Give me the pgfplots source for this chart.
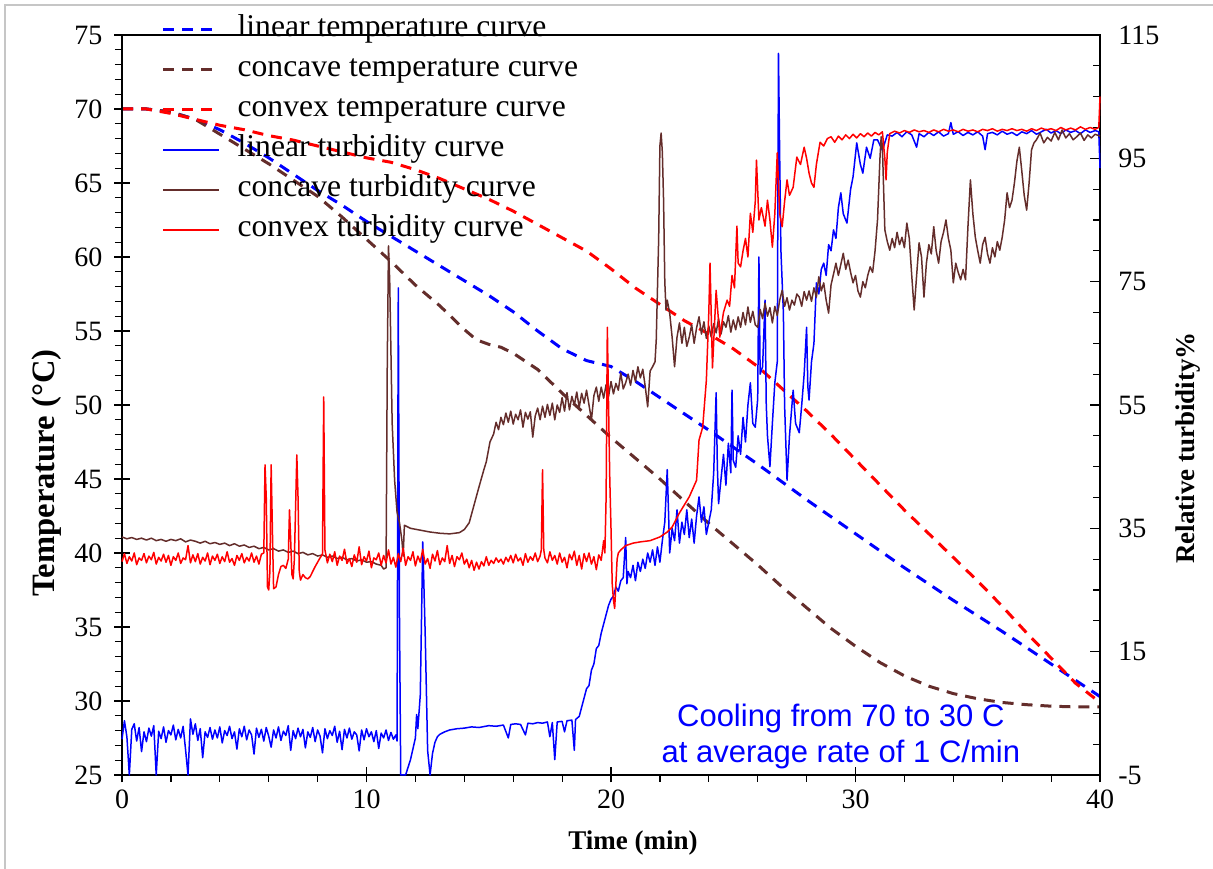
\documentclass[border=0pt]{standalone}
\usepackage{fontspec}
\setmainfont{Liberation Serif}
\newfontfamily\arialf{Liberation Sans}
\usepackage{pgfplots}
\pgfplotsset{compat=1.18}
\definecolor{cblue}{RGB}{0,0,255}
\definecolor{cbrown}{RGB}{100,45,43}
\definecolor{cred}{RGB}{255,0,0}
\tikzset{tdash/.style={line width=1.5pt, dash pattern=on 5.5pt off 4pt},
         tsol/.style={solid, line width=0.75pt, line join=round}}
\begin{document}
\begin{tikzpicture}
\begin{axis}[name=ax, scale only axis, width=489pt, height=370pt,
  xmin=0, xmax=40, ymin=25, ymax=75,
  xtick={0,10,20,30,40}, minor x tick num=4,
  ytick={25,30,...,75}, minor y tick num=4,
  tick pos=left, tick align=center,
  major tick length=7.5pt, minor tick length=3.5pt,
  minor x tick style={yshift=-1.75pt}, minor y tick style={xshift=-1.75pt},
  every tick/.style={black, line width=0.6pt},
  axis line style={line width=0.7pt},
  /pgf/number format/assume math mode=true,
  ticklabel style={font=\fontsize{14}{14}\selectfont},
  yticklabel style={xshift=-2.5pt},
  xlabel={\textbf{Time (min)}}, ylabel={\textbf{Temperature (°C)}},
  xlabel style={font=\fontsize{13.5}{14}\selectfont, at={(axis description cs:0.5225,-0.092)}, anchor=center},
  ylabel style={font=\fontsize{16.3}{17}\selectfont, at={(axis description cs:-0.077,0.408)}, anchor=center},
  no markers, clip=true]
% linear temperature
\addplot[cblue, tdash] coordinates {(0,70)(1,70)(2,69.8)(3,69.3)(4,68.6)(5,67.7)(6,66.7)(7,65.6)(8,64.5)(9,63.5)(10,62.4)(11,61.4)(12,60.4)(13,59.4)(14,58.4)(15,57.4)(16,56.3)(17,55.0)(18,53.8)(19,53.0)(20,52.6)(21,51.6)(22,50.5)(24,48.3)(26,46.0)(28,43.6)(30,41.3)(32,39.0)(34,36.8)(36,34.7)(38,32.5)(40,30.3)};
% concave temperature
\addplot[cbrown, tdash] coordinates {(0,70)(1,70)(2,69.8)(3,69.3)(4,68.3)(5,67.3)(6,66.3)(7,65.2)(8,64.1)(9,62.7)(10,61.2)(11,59.7)(12,58.1)(13,56.7)(14,55.1)(14.5,54.4)(15,54.1)(15.5,53.9)(16,53.5)(17,52.4)(18,50.8)(19,49.3)(20,47.8)(21,46.4)(22,45.0)(23,43.5)(24,42.0)(25,40.6)(26,39.2)(27,37.7)(28,36.3)(29,34.9)(30,33.7)(31,32.6)(32,31.7)(33,31.0)(34,30.5)(35,30.15)(36,29.9)(37,29.75)(38,29.65)(39,29.6)(40,29.6)};
% convex temperature
\addplot[cred, tdash] coordinates {(0,70)(1,70)(2,69.7)(3,69.3)(4,68.9)(5,68.6)(6,68.2)(7,67.9)(8,67.5)(9,67.1)(10,66.7)(11,66.4)(12,65.9)(13,65.3)(14,64.6)(15,63.9)(16,63.1)(17,62.2)(18,61.3)(19,60.4)(20,59.2)(21,57.9)(22,56.8)(23,55.7)(24,54.8)(25,53.8)(26,52.6)(27,51.1)(28,49.6)(29,48.0)(30,46.3)(31,44.6)(32,42.9)(33,41.3)(34,39.7)(35,38.1)(36,36.4)(37,34.6)(38,32.9)(39,31.2)(40,29.9)};
\node[font=\arialf\fontsize{15.5}{18}\selectfont, text=cblue, align=center] at (axis cs:29.4,27.6) {Cooling from 70 to 30 C\\at average rate of 1 C/min};
\end{axis}
\begin{axis}[scale only axis, width=489pt, height=370pt,
  xmin=0, xmax=40, ymin=-5, ymax=115,
  hide x axis, ytick pos=right,
  ytick={-5,15,...,115}, minor y tick num=3, yticklabels={},
  tick align=inside, major tick length=5pt, minor tick length=3.5pt,
  every tick/.style={black, line width=0.6pt},
  axis line style={line width=0.7pt},
  ylabel={\textbf{Relative turbidity\%}},
  label style={font=\fontsize{13.5}{14}\selectfont},
  ylabel style={at={(axis description cs:1.09,0.442)}, anchor=center},
  no markers, clip=false,
  legend style={at={(axis description cs:0.034,1.036)}, anchor=north west, draw=none, fill=none,
    font=\fontsize{15.8}{16}\selectfont, row sep=3pt, column sep=7.5pt,
    nodes={inner sep=1pt, text height=11pt, text depth=4pt}},
  legend cell align=left,
  legend image code/.code={\draw[#1] (0pt,0pt) -- (28pt,0pt);}]
\addlegendimage{draw=cblue, tdash}
\addlegendentry{linear temperature curve}
\addlegendimage{draw=cbrown, tdash}
\addlegendentry{concave temperature curve}
\addlegendimage{draw=cred, tdash}
\addlegendentry{convex temperature curve}
\addlegendimage{draw=cblue, solid, line width=0.9pt}
\addlegendentry{linear turbidity curve}
\addlegendimage{draw=cbrown, solid, line width=0.9pt}
\addlegendentry{concave turbidity curve}
\addlegendimage{draw=cred, solid, line width=0.9pt}
\addlegendentry{convex turbidity curve}
\pgfplotsinvokeforeach{-5,15,35,55,75,95,115}{\node[anchor=west, inner sep=0pt, font=\fontsize{14}{14}\selectfont] at ([xshift=9pt]axis cs:40,#1) {#1};}
% linear turbidity
\addplot[cblue, tsol, forget plot] coordinates {
(0,0.8)(0.1,3.8)(0.2,1.2)(0.3,-5)(0.4,2.4)(0.5,3.3)(0.6,0.5)(0.7,2.7)(0.8,-1.2)(0.9,2.0)
(1.0,0.4)(1.1,2.6)(1.2,1.3)(1.3,3.0)(1.4,-5)(1.5,2.1)(1.6,0.9)(1.7,2.8)(1.8,0.3)(1.9,2.2)
(2.0,1.5)(2.1,3.1)(2.2,0.7)(2.3,2.4)(2.4,1.0)(2.5,2.9)(2.6,-0.9)(2.7,-5)(2.8,4.1)(2.9,1.6)
(3.0,3.3)(3.1,0.6)(3.2,2.5)(3.3,-2.2)(3.4,2.0)(3.5,1.1)(3.6,2.7)(3.7,0.8)(3.8,2.3)(3.9,1.0)
(4.0,2.8)(4.1,0.2)(4.2,2.2)(4.3,1.4)(4.4,2.9)(4.5,0.9)(4.6,2.0)(4.7,-0.8)(4.8,2.5)(4.9,1.2)
(5.0,2.9)(5.1,0.7)(5.2,2.3)(5.3,1.5)(5.4,-1.6)(5.5,2.6)(5.6,1.1)(5.7,2.4)(5.8,0.5)(5.9,2.7)
(6.0,1.3)(6.1,-0.5)(6.2,2.3)(6.3,1.0)(6.4,2.8)(6.5,0.6)(6.6,2.1)(6.7,1.4)(6.8,3.0)(6.9,-1.0)
(7.0,2.2)(7.1,0.9)(7.2,2.6)(7.3,1.2)(7.4,2.4)(7.5,-0.6)(7.6,2.0)(7.7,1.1)(7.8,2.7)(7.9,0.4)
(8.0,2.3)(8.1,1.3)(8.2,-1.4)(8.3,2.5)(8.4,0.9)(8.5,2.2)(8.6,1.4)(8.7,2.9)(8.8,0.3)(8.9,2.1)
(9.0,-0.9)(9.1,2.4)(9.2,1.0)(9.3,2.6)(9.4,0.8)(9.5,2.0)(9.6,1.5)(9.7,-1.1)(9.8,2.3)(9.9,0.7)
(10.0,2.5)(10.1,1.2)(10.2,2.0)(10.3,0.4)(10.4,2.2)(10.5,-0.7)(10.6,1.8)(10.7,1.0)(10.8,2.3)(10.9,0.6)
(11.0,1.9)(11.1,0.8)(11.2,1.5)(11.25,0.5)(11.3,74)(11.35,20)(11.4,-5)(11.6,-5)(11.8,-2.5)(12.0,1.0)
(12.05,4.8)(12.1,2.5)(12.2,8)(12.3,32.8)(12.4,18)(12.5,-1)(12.6,-5)(12.7,-1.5)(12.8,0.3)(12.9,1.2)
(13.0,1.6)(13.2,2.0)(13.4,2.3)(13.7,2.5)(14.0,2.6)(14.3,2.8)(14.6,2.7)(15.0,3.0)(15.3,2.9)(15.6,3.1)
(15.8,1.0)(15.9,3.2)(16.1,3.3)(16.3,3.2)(16.5,1.5)(16.6,3.4)(16.8,3.3)(17.0,3.5)(17.2,3.4)(17.4,3.6)
(17.5,1.2)(17.6,3.5)(17.7,-2.5)(17.8,3.6)(18.0,3.7)(18.1,2.0)(18.2,3.8)(18.4,3.9)(18.5,-1.0)(18.55,4.0)
(18.7,4.5)(18.8,6.0)(18.9,7.5)(19.0,9.0)(19.1,9.5)(19.2,12.0)(19.3,13.0)(19.4,15.5)(19.5,16.0)(19.6,18.0)
(19.7,19.5)(19.8,21.0)(19.9,22.5)(20.0,23.5)(20.1,24.0)(20.2,25.5)(20.3,24.8)(20.4,26.5)(20.5,27.0)(20.6,33.5)
(20.65,26.0)(20.7,28.0)(20.8,27.0)(20.9,29.0)(21.0,26.5)(21.1,29.5)(21.2,28.0)(21.3,30.0)(21.4,28.5)(21.5,31.0)
(21.6,29.5)(21.7,31.5)(21.8,29.0)(21.9,32.0)(22.0,29.5)(22.1,33.0)(22.2,36.0)(22.3,44.5)(22.35,38)(22.4,31.0)
(22.5,35)(22.6,33)(22.7,38)(22.8,32.6)(22.9,36)(23.0,34)(23.1,38)(23.2,33.5)(23.3,36.5)(23.4,32.6)
(23.5,37)(23.6,40.1)(23.7,36)(23.8,38.5)(23.9,34)(24.0,36)(24.1,38)(24.2,44)(24.3,57)(24.35,45)
(24.4,39)(24.5,43)(24.6,47)(24.7,42)(24.8,48.8)(24.9,44)(24.95,57.4)(25.0,46)(25.1,44.9)(25.2,50)
(25.3,47)(25.4,53)(25.5,49)(25.6,55)(25.7,58.6)(25.8,52)(25.9,51.4)(26.0,56)(26.05,79)(26.1,60)
(26.2,61.2)(26.3,72)(26.35,55)(26.4,50)(26.5,45)(26.6,52)(26.7,58.6)(26.8,62)(26.85,112)(26.9,95)
(26.95,80)(27.05,70)(27.1,55)(27.2,42.8)(27.3,50)(27.45,57.4)(27.55,52)(27.7,50.5)(27.8,55)(27.9,60)
(28.0,67.6)(28.05,58)(28.1,55.8)(28.2,62)(28.3,65)(28.4,74.8)(28.5,73)(28.6,77)(28.7,78)(28.8,76)
(28.9,81)(29.0,80)(29.1,83.4)(29.2,82)(29.3,87)(29.4,89.4)(29.5,86)(29.65,84.5)(29.8,90)(29.9,92)
(30.05,97.5)(30.2,94)(30.3,92.6)(30.45,96.8)(30.6,95)(30.75,98)(30.9,98)(31.1,96.3)(31.3,98.8)(31.5,98.6)
(31.7,99.2)(31.9,98.5)(32.1,99.3)(32.3,98.8)(32.5,96.8)(32.6,99.0)(32.8,98.5)(33.0,99.2)(33.2,98.7)(33.4,99.3)
(33.6,98.6)(33.8,99.0)(33.9,100.8)(34.0,98.9)(34.2,99.3)(34.4,98.7)(34.6,99.2)(34.8,98.8)(35.0,99.3)(35.2,98.6)
(35.3,96.4)(35.4,99.0)(35.6,99.2)(35.8,98.8)(36.0,99.4)(36.2,98.9)(36.4,99.2)(36.6,98.7)(36.8,99.3)(37.0,99.0)
(37.2,99.5)(37.4,98.9)(37.6,99.3)(37.8,99.7)(38.0,99.1)(38.2,99.5)(38.4,99.0)(38.6,99.6)(38.8,99.2)(39.0,99.5)
(39.2,99.0)(39.4,99.6)(39.6,99.2)(39.8,99.5)(39.95,99.3)(40.0,93.4)};
% concave turbidity
\addplot[cbrown, tsol, forget plot] coordinates {
(0.0,33.6)(0.2,33.3)(0.4,33.5)(0.6,33.2)(0.8,33.4)(1.0,33.1)(1.2,33.4)(1.4,33.0)(1.6,33.2)(1.8,32.9)
(2.0,33.2)(2.2,33.0)(2.4,33.3)(2.6,32.8)(2.8,33.1)(3.0,32.9)(3.2,32.6)(3.4,32.9)(3.6,32.5)(3.8,32.7)
(4.0,32.4)(4.2,32.6)(4.4,32.2)(4.6,32.5)(4.8,32.1)(5.0,32.3)(5.2,31.9)(5.4,32.1)(5.6,31.7)(5.8,31.9)
(6.0,31.5)(6.2,31.7)(6.4,31.3)(6.6,31.5)(6.8,31.1)(7.0,31.3)(7.2,30.9)(7.4,31.1)(7.6,30.7)(7.8,30.9)
(8.0,30.5)(8.2,30.7)(8.4,30.3)(8.6,30.5)(8.8,30.1)(9.0,30.3)(9.2,29.9)(9.4,30.1)(9.6,29.7)(9.8,29.9)
(10.0,29.5)(10.2,29.6)(10.4,29.2)(10.6,29.0)(10.7,28.4)(10.8,28.6)(10.85,62)(10.9,80.8)(10.95,75)(11.05,52)
(11.15,42.8)(11.25,37.6)(11.35,35.9)(11.45,33)(11.5,30.5)(11.55,35.5)(11.8,35.0)(12.2,34.7)(12.6,34.4)(13.0,34.2)
(13.4,34.1)(13.8,34.3)(14.0,34.8)(14.2,35.9)(14.4,38.8)(14.6,41.7)(14.8,44.5)(14.9,45.8)(15.05,49.0)(15.2,50.3)
(15.3,52.2)(15.4,51.0)(15.5,53.0)(15.6,51.8)(15.7,53.7)(15.8,52.2)(15.9,54.0)(16.0,51.9)(16.1,53.5)(16.2,52.6)
(16.3,54.2)(16.4,51.4)(16.5,53.8)(16.6,52.7)(16.7,53.9)(16.8,49.8)(16.9,53.2)(17.0,54.5)(17.1,52.6)(17.2,54.8)
(17.3,53.0)(17.4,55.1)(17.5,53.3)(17.6,55.3)(17.7,52.6)(17.8,55.0)(17.9,53.8)(18.0,56.2)(18.1,54.0)(18.2,57.0)
(18.3,54.2)(18.4,56.4)(18.5,55.0)(18.6,57.1)(18.7,54.6)(18.8,56.9)(18.9,55.3)(19.0,57.4)(19.1,55.0)(19.2,52.6)
(19.3,56.5)(19.4,57.9)(19.5,55.6)(19.6,57.9)(19.7,56.1)(19.8,58.3)(19.9,56.4)(20.0,58.8)(20.1,56.8)(20.2,58.5)
(20.3,57.4)(20.4,60.2)(20.5,57.6)(20.6,58.6)(20.7,60.0)(20.8,58.2)(20.9,60.6)(21.0,58.8)(21.1,61.2)(21.2,59.4)
(21.3,60.8)(21.4,58.0)(21.5,54.7)(21.6,60.5)(21.7,61.2)(21.8,62.0)(21.85,65.5)(21.95,82)(22.0,97)(22.05,99.1)
(22.1,96)(22.15,88.2)(22.2,75)(22.25,70.4)(22.3,72)(22.4,69.9)(22.5,66)(22.6,61.2)(22.7,66)(22.8,68.3)
(22.9,65)(23.0,67.6)(23.1,64.5)(23.2,66)(23.3,68)(23.4,65)(23.5,67.5)(23.6,69.3)(23.7,66.5)(23.8,68.5)
(23.9,65.8)(24.0,67.8)(24.1,66.0)(24.2,68.2)(24.3,66.7)(24.4,69.0)(24.5,66.5)(24.6,68.5)(24.7,67.6)(24.8,69.5)
(24.9,66.8)(25.0,68.8)(25.1,67.2)(25.2,69.3)(25.3,67.6)(25.4,70.0)(25.5,68.0)(25.6,70.9)(25.7,68.4)(25.8,70.2)
(25.9,68.0)(26.0,67.6)(26.1,70.5)(26.2,69.0)(26.3,71.5)(26.4,69.4)(26.5,70.8)(26.6,68.3)(26.7,71.0)(26.8,69.5)
(26.9,72.0)(27.0,73.6)(27.1,71.0)(27.2,72.4)(27.3,70.4)(27.4,72.0)(27.5,71.2)(27.6,73.0)(27.7,72.5)(27.8,71.0)
(27.9,73.4)(28.0,72.0)(28.1,73.5)(28.2,71.8)(28.3,74.0)(28.4,72.5)(28.5,75.8)(28.6,73.5)(28.7,74.8)(28.8,72.0)
(28.9,69.9)(29.0,74.5)(29.1,76.2)(29.2,78.0)(29.3,76.0)(29.4,77.8)(29.5,79.6)(29.6,77.0)(29.7,78.5)(29.8,76.5)
(29.9,74.8)(30.0,76.0)(30.1,73.5)(30.2,72.5)(30.3,75.0)(30.4,74.0)(30.5,76.0)(30.6,77.4)(30.7,76.5)(30.8,80.0)
(30.9,85.0)(31.0,95.0)(31.05,98.5)(31.1,97.0)(31.15,90.0)(31.2,83.4)(31.3,81.5)(31.4,80.1)(31.5,82.0)(31.6,80.5)
(31.7,83.0)(31.8,81.0)(31.9,82.2)(32.0,80.5)(32.1,84.5)(32.2,82.0)(32.3,76.0)(32.4,70.4)(32.5,76.0)(32.6,81.3)
(32.7,79.0)(32.8,72.5)(32.9,78.0)(33.0,81.0)(33.1,79.5)(33.2,83.9)(33.3,80.0)(33.4,78.0)(33.5,81.5)(33.6,83.0)
(33.7,85.0)(33.8,82.0)(33.9,80.1)(34.0,74.8)(34.1,78.0)(34.2,76.5)(34.3,75.3)(34.4,77.0)(34.5,75.3)(34.6,84.0)
(34.7,91.5)(34.8,86.0)(34.9,82.2)(35.0,80.0)(35.1,78.0)(35.2,81.0)(35.3,82.2)(35.4,79.5)(35.5,78.0)(35.6,80.5)
(35.7,79.0)(35.8,81.5)(35.9,80.1)(36.0,82.2)(36.1,85.0)(36.2,89.4)(36.3,87.0)(36.4,88.2)(36.5,91.0)(36.6,94.5)
(36.7,96.8)(36.8,93.0)(36.9,89.0)(37.0,86.6)(37.1,91.0)(37.2,96.4)(37.3,97.5)(37.4,98.0)(37.55,99.1)(37.7,97.5)
(37.85,98.4)(38.0,97.8)(38.15,99.2)(38.3,98.0)(38.45,99.6)(38.6,98.3)(38.75,99.0)(38.9,98.0)(39.05,98.5)(39.2,99.1)
(39.35,97.9)(39.5,98.8)(39.65,98.3)(39.8,98.9)(40.0,98.6)};
% convex turbidity
\addplot[cred, tsol, forget plot] coordinates {
(0,29.6)(0.1,30.9)(0.2,29.3)(0.3,30.4)(0.4,29.7)(0.5,31.0)(0.6,29.1)(0.7,30.2)(0.8,29.8)(0.9,30.9)
(1.0,29.4)(1.1,30.5)(1.2,29.9)(1.3,31.1)(1.4,29.2)(1.5,30.3)(1.6,29.7)(1.7,30.8)(1.8,29.5)(1.9,30.6)
(2.0,29.0)(2.1,30.4)(2.2,29.8)(2.3,31.0)(2.4,29.3)(2.5,30.2)(2.6,29.9)(2.7,32.2)(2.8,29.4)(2.9,30.7)
(3.0,29.6)(3.1,30.9)(3.2,29.2)(3.3,30.3)(3.4,29.7)(3.5,31.0)(3.6,29.1)(3.7,30.5)(3.8,29.8)(3.9,30.8)
(4.0,29.3)(4.1,30.4)(4.2,29.6)(4.3,31.2)(4.4,29.5)(4.5,30.1)(4.6,29.0)(4.7,30.6)(4.8,29.8)(4.9,30.9)
(5.0,29.4)(5.1,30.3)(5.2,29.7)(5.3,31.0)(5.4,29.5)(5.5,30.5)(5.6,29.2)(5.7,30.8)(5.8,31.0)(5.85,45.3)
(5.9,40)(5.95,25.5)(6.0,25.0)(6.05,28)(6.1,45.3)(6.15,35)(6.2,25.2)(6.3,25.5)(6.4,27.5)(6.5,28.8)
(6.6,29.0)(6.7,28.5)(6.8,30.0)(6.85,38.0)(6.9,33)(6.95,27.5)(7.0,26.8)(7.05,30)(7.15,46.9)(7.2,40)
(7.25,28)(7.3,26.6)(7.4,27.5)(7.5,27.0)(7.6,26.8)(7.7,27.2)(7.8,28.0)(7.9,28.8)(8.0,29.5)(8.1,30.2)
(8.2,30.8)(8.25,56.3)(8.3,31.5)(8.4,29.4)(8.5,30.8)(8.6,29.6)(8.7,31.2)(8.8,29.0)(8.9,30.5)(9.0,29.8)
(9.1,31.6)(9.2,29.3)(9.3,30.1)(9.4,28.8)(9.5,30.7)(9.6,29.5)(9.7,32.0)(9.8,29.1)(9.9,30.4)(10.0,29.7)
(10.1,31.3)(10.2,28.6)(10.3,30.2)(10.4,29.9)(10.5,31.0)(10.6,29.0)(10.7,30.6)(10.8,29.4)(10.9,31.5)(11.0,29.2)
(11.1,30.3)(11.2,28.7)(11.3,30.9)(11.4,29.6)(11.5,31.8)(11.6,29.0)(11.7,30.4)(11.8,29.8)(11.9,31.2)(12.0,28.9)
(12.1,30.5)(12.2,29.5)(12.3,31.6)(12.4,29.2)(12.5,30.1)(12.6,28.5)(12.7,30.8)(12.8,29.7)(12.9,31.4)(13.0,29.1)
(13.1,30.2)(13.2,29.6)(13.3,32.2)(13.4,29.3)(13.5,30.6)(13.6,28.8)(13.7,30.4)(13.8,29.9)(13.9,31.0)(14.0,29.2)
(14.1,30.0)(14.2,28.6)(14.3,29.8)(14.4,28.2)(14.5,29.5)(14.6,28.4)(14.7,29.6)(14.8,28.9)(14.9,30.4)(15.0,29.0)
(15.1,29.8)(15.2,29.3)(15.3,30.2)(15.4,29.5)(15.5,30.0)(15.6,29.2)(15.7,30.3)(15.8,29.6)(15.9,30.6)(16.0,29.4)
(16.1,30.8)(16.2,29.7)(16.3,30.2)(16.4,29.0)(16.5,30.9)(16.6,29.5)(16.7,30.4)(16.8,29.8)(16.9,31.0)(17.0,29.6)
(17.1,30.5)(17.15,31.5)(17.2,44.5)(17.25,31.5)(17.3,30.2)(17.4,29.4)(17.5,31.2)(17.6,29.8)(17.7,30.6)(17.8,29.2)
(17.9,31.0)(18.0,29.5)(18.1,30.3)(18.2,28.6)(18.3,30.8)(18.4,29.9)(18.5,31.3)(18.6,29.0)(18.7,30.6)(18.8,28.4)
(18.9,30.9)(19.0,29.6)(19.1,31.0)(19.2,29.2)(19.3,30.4)(19.4,28.3)(19.5,30.7)(19.6,29.8)(19.7,33.0)(19.75,31.0)
(19.8,40)(19.85,67.6)(19.9,55)(19.95,43)(20.0,35)(20.05,26)(20.1,23.4)(20.15,22)(20.2,26)(20.25,30)
(20.3,31)(20.4,31.5)(20.6,32.2)(20.9,32.6)(21.2,32.8)(21.6,33.0)(22.0,33.6)(22.3,34.4)(22.5,35.2)(22.8,37.5)
(23.2,40.1)(23.5,42.8)(23.6,49.3)(23.75,51.4)(23.9,59)(24.0,70)(24.05,78)(24.15,61)(24.3,73.6)(24.45,66)
(24.6,70)(24.75,72)(24.85,71)(24.95,76)(25.05,74)(25.15,84)(25.2,78)(25.3,77.4)(25.4,80)(25.5,82)
(25.6,79)(25.7,86.1)(25.8,83)(25.9,88)(25.95,94.7)(26.05,85)(26.15,87)(26.3,84)(26.4,88.2)(26.5,85)
(26.6,80.6)(26.7,86)(26.8,95.9)(26.9,86)(27.0,83.9)(27.1,88)(27.2,91.5)(27.3,89)(27.45,90.3)(27.6,95.2)
(27.75,94)(27.9,96.8)(28.0,95)(28.1,92.6)(28.2,91)(28.3,90.3)(28.4,94)(28.55,97.6)(28.7,97.0)(28.85,98.2)
(29.0,98.5)(29.15,97.6)(29.3,98.6)(29.45,98.0)(29.6,98.8)(29.75,98.2)(29.9,98.9)(30.05,98.3)(30.2,99.0)(30.35,98.5)
(30.5,99.1)(30.65,98.6)(30.8,99.2)(30.95,98.8)(31.1,99.3)(31.2,95)(31.25,91.5)(31.3,96)(31.4,99.0)(31.6,99.4)
(31.8,99.1)(32.0,99.5)(32.2,99.2)(32.4,99.6)(32.6,99.3)(32.8,99.5)(33.0,99.2)(33.2,99.6)(33.4,99.3)(33.6,99.7)
(33.8,99.4)(34.0,99.6)(34.2,99.3)(34.4,99.7)(34.6,99.4)(34.8,99.6)(35.0,99.3)(35.2,99.7)(35.4,99.5)(35.6,99.8)
(35.8,99.4)(36.0,99.7)(36.2,99.5)(36.4,99.8)(36.6,99.5)(36.8,99.7)(37.0,99.4)(37.2,99.8)(37.4,99.5)(37.6,99.9)
(37.8,99.6)(38.0,99.8)(38.2,99.5)(38.4,100.0)(38.6,99.6)(38.8,99.9)(39.0,99.6)(39.2,100.1)(39.4,99.7)(39.6,100.0)
(39.8,99.7)(39.95,100.0)(40.0,105)};
\end{axis}
\draw[gray!45, line width=0.6pt] ([shift={(-58.5pt,-47pt)}]ax.south west) -- ([shift={(-58.5pt,385pt)}]ax.south west) -- ([shift={(545.5pt,385pt)}]ax.south west);
\pgfresetboundingbox
\path[use as bounding box] ([shift={(-61pt,-47pt)}]ax.south west) rectangle ([shift={(56.5pt,17.5pt)}]ax.north east);
\end{tikzpicture}
\end{document}
